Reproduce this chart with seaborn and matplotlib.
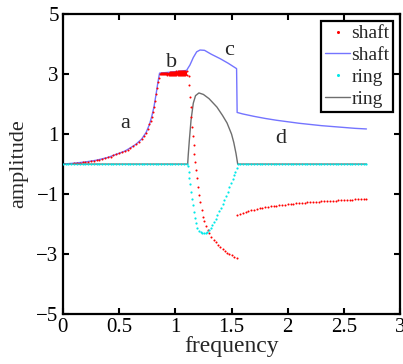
import matplotlib
matplotlib.use("Agg")
import matplotlib.pyplot as plt
import seaborn as sns
import pandas as pd
from matplotlib.lines import Line2D

# ---------------- data ----------------
# shaft, points (branch a)
shaft_a_x = [0.100, 0.125, 0.150, 0.175, 0.200, 0.225, 0.250, 0.275, 0.300, 0.325, 0.350, 0.375,
             0.400, 0.425, 0.450, 0.475, 0.500, 0.525, 0.550, 0.575, 0.600, 0.625, 0.650, 0.675,
             0.700, 0.720, 0.740, 0.755, 0.770, 0.780, 0.790, 0.800, 0.810, 0.820, 0.830, 0.838,
             0.845, 0.852, 0.860]
shaft_a_y = [0.03, 0.04, 0.05, 0.06, 0.07, 0.08, 0.10, 0.11, 0.13, 0.15, 0.17, 0.19,
             0.22, 0.25, 0.29, 0.32, 0.36, 0.39, 0.43, 0.48, 0.54, 0.60, 0.66, 0.74,
             0.83, 0.93, 1.05, 1.17, 1.32, 1.44, 1.58, 1.73, 1.90, 2.10, 2.35, 2.53,
             2.72, 2.86, 3.00]
# shaft, points (branch b: band)
shaft_b_x = [0.87, 0.88, 0.89, 0.90, 0.91, 0.92, 0.93, 0.94, 0.95, 0.96, 0.97, 0.98,
             0.99, 1.00, 1.01, 1.02, 1.03, 1.04, 1.05, 1.06, 1.07, 1.08, 1.09, 1.10]
shaft_b_upper = [3.02, 3.02, 3.03, 3.03, 3.04, 3.04, 3.05, 3.05, 3.06, 3.06, 3.07, 3.07,
                 3.08, 3.08, 3.09, 3.09, 3.09, 3.10, 3.10, 3.10, 3.11, 3.11, 3.11, 3.11]
shaft_b_lower = [3.00, 3.00, 2.99, 2.99, 2.99, 2.99, 2.98, 2.98, 2.98, 2.98, 2.98, 2.98,
                 2.97, 2.97, 2.97, 2.97, 2.97, 2.97, 2.96, 2.96, 2.96, 2.96, 2.96, 2.96]
# shaft, points (branch c: falling)
shaft_c_x = [1.118, 1.126, 1.132, 1.138, 1.144, 1.150, 1.156, 1.163, 1.170, 1.178, 1.186,
             1.194, 1.203, 1.212, 1.222, 1.233, 1.245, 1.258, 1.272, 1.287, 1.302, 1.32,
             1.34, 1.36, 1.38, 1.40, 1.42, 1.44, 1.46, 1.48, 1.50, 1.52, 1.545]
shaft_c_y = [2.94, 2.63, 2.25, 1.90, 1.57, 1.25, 0.95, 0.65, 0.35, 0.08, -0.20,
             -0.48, -0.76, -1.02, -1.28, -1.53, -1.77, -1.90, -2.06, -2.20, -2.30, -2.42,
             -2.52, -2.61, -2.70, -2.77, -2.84, -2.90, -2.95, -3.00, -3.04, -3.08, -3.12]
# shaft, points (branch d)
shaft_d_x = [1.550, 1.575, 1.600, 1.625, 1.650, 1.675, 1.700, 1.725, 1.750, 1.775, 1.800,
             1.825, 1.850, 1.875, 1.900, 1.925, 1.950, 1.975, 2.000, 2.025, 2.050, 2.075,
             2.100, 2.125, 2.150, 2.175, 2.200, 2.225, 2.250, 2.275, 2.300, 2.325, 2.350,
             2.375, 2.400, 2.425, 2.450, 2.475, 2.500, 2.525, 2.550, 2.575, 2.600, 2.625,
             2.650, 2.675, 2.700]
shaft_d_y = [-1.70, -1.655, -1.62, -1.59, -1.565, -1.54, -1.515, -1.495, -1.475, -1.455, -1.44,
             -1.425, -1.41, -1.395, -1.385, -1.372, -1.36, -1.35, -1.34, -1.33, -1.32, -1.31,
             -1.30, -1.29, -1.283, -1.276, -1.269, -1.262, -1.255, -1.249, -1.243, -1.237, -1.231,
             -1.225, -1.22, -1.215, -1.21, -1.205, -1.20, -1.195, -1.19, -1.185, -1.18, -1.175,
             -1.17, -1.165, -1.16]

# shaft, line
shaft_line_x = [0.00, 0.10, 0.20, 0.30, 0.40, 0.50, 0.55, 0.60, 0.65, 0.70, 0.74, 0.77, 0.79,
                0.81, 0.83, 0.845, 0.86, 0.95, 1.03, 1.10, 1.13, 1.16, 1.19, 1.22, 1.26,
                1.32, 1.40, 1.47, 1.545, 1.55, 1.60, 1.70, 1.80, 1.90, 2.00, 2.10, 2.20,
                2.30, 2.40, 2.50, 2.60, 2.70]
shaft_line_y = [0.00, 0.03, 0.07, 0.13, 0.22, 0.36, 0.43, 0.54, 0.66, 0.83, 1.05, 1.32, 1.58,
                1.90, 2.35, 2.72, 3.03, 3.06, 3.09, 3.12, 3.30, 3.55, 3.74, 3.80, 3.79,
                3.66, 3.51, 3.36, 3.18, 1.72, 1.67, 1.59, 1.52, 1.46, 1.41, 1.36, 1.32,
                1.28, 1.25, 1.22, 1.19, 1.17]

# ring, points
ring_zero_left_x = [0.000, 0.025, 0.050, 0.075, 0.100, 0.125, 0.150, 0.175, 0.200, 0.225,
                    0.250, 0.275, 0.300, 0.325, 0.350, 0.375, 0.400, 0.425, 0.450, 0.475,
                    0.500, 0.525, 0.550, 0.575, 0.600, 0.625, 0.650, 0.675, 0.700, 0.725,
                    0.750, 0.775, 0.800, 0.825, 0.850, 0.875, 0.900, 0.925, 0.950, 0.975,
                    1.000, 1.025, 1.050, 1.075, 1.100]
ring_dip_x = [1.115, 1.12, 1.125, 1.13, 1.137, 1.145, 1.153, 1.162, 1.172, 1.183, 1.195,
              1.21, 1.225, 1.24, 1.255, 1.27, 1.285, 1.30, 1.315, 1.33, 1.345, 1.36,
              1.375, 1.39, 1.405, 1.42, 1.435, 1.45, 1.465, 1.48, 1.495, 1.51, 1.525,
              1.535, 1.545, 1.555]
ring_dip_y = [-0.05, -0.25, -0.45, -0.68, -0.92, -1.15, -1.38, -1.60, -1.80, -1.98, -2.12,
              -2.22, -2.28, -2.31, -2.31, -2.29, -2.25, -2.20, -2.12, -2.03, -1.93, -1.82,
              -1.70, -1.57, -1.45, -1.33, -1.20, -1.07, -0.92, -0.78, -0.63, -0.50, -0.37,
              -0.25, -0.12, 0.00]
ring_zero_right_x = [1.575, 1.600, 1.625, 1.650, 1.675, 1.700, 1.725, 1.750, 1.775, 1.800,
                     1.825, 1.850, 1.875, 1.900, 1.925, 1.950, 1.975, 2.000, 2.025, 2.050,
                     2.075, 2.100, 2.125, 2.150, 2.175, 2.200, 2.225, 2.250, 2.275, 2.300,
                     2.325, 2.350, 2.375, 2.400, 2.425, 2.450, 2.475, 2.500, 2.525, 2.550,
                     2.575, 2.600, 2.625, 2.650, 2.675, 2.700]

# ring, line
ring_line_x = [0.00, 1.11, 1.115, 1.125, 1.14, 1.16, 1.18, 1.21, 1.25, 1.30, 1.37, 1.42,
               1.46, 1.50, 1.52, 1.54, 1.555, 2.70]
ring_line_y = [0.00, 0.00, 0.30, 0.80, 1.47, 2.03, 2.28, 2.37, 2.32, 2.18, 1.90, 1.62,
               1.37, 1.00, 0.72, 0.35, 0.00, 0.00]

x_ticks = [0, 0.5, 1, 1.5, 2, 2.5, 3]
x_tick_labels = ["0", "0.5", "1", "1.5", "2", "2.5", "3"]
y_ticks = [-5, -3, -1, 1, 3, 5]
y_tick_labels = ["\u22125", "\u22123", "\u22121", "1", "3", "5"]
region_labels = ["a", "b", "c", "d"]
region_x = [0.554, 0.964, 1.476, 1.94]
region_y = [1.36, 3.38, 3.80, 0.86]

# ---------------- style ----------------
sns.set_style("ticks")
plt.rcParams["font.family"] = ["Liberation Serif", "DejaVu Serif"]

RED = "#ff0000"
BLUE = "#7474ff"
CYAN = "#00e8e8"
GRAY = "#6e6e6e"

fig = plt.figure(figsize=(4.03, 3.64), dpi=100)
ax = fig.add_axes([0.156, 0.137, 0.837, 0.8245])

shaft_pts = pd.DataFrame({
    "x": shaft_a_x + shaft_b_x + shaft_b_x + shaft_c_x + shaft_d_x,
    "y": shaft_a_y + shaft_b_upper + shaft_b_lower + shaft_c_y + shaft_d_y,
})
shaft_line = pd.DataFrame({"x": shaft_line_x, "y": shaft_line_y})
ring_pts = pd.DataFrame({
    "x": ring_zero_left_x + ring_dip_x + ring_zero_right_x,
    "y": [0.0] * len(ring_zero_left_x) + ring_dip_y + [0.0] * len(ring_zero_right_x),
})
ring_line = pd.DataFrame({"x": ring_line_x, "y": ring_line_y})

sns.lineplot(data=shaft_line, x="x", y="y", sort=False, estimator=None, color=BLUE,
             linewidth=1.0, ax=ax, zorder=2)
sns.lineplot(data=ring_line, x="x", y="y", sort=False, estimator=None, color=GRAY,
             linewidth=1.0, ax=ax, zorder=2)
ax.fill_between(shaft_b_x, shaft_b_lower, shaft_b_upper, color=RED, linewidth=0, zorder=3)
sns.scatterplot(data=shaft_pts, x="x", y="y", color=RED, s=2.2, linewidth=0, ax=ax, zorder=3)
sns.scatterplot(data=ring_pts, x="x", y="y", color=CYAN, s=2.5, linewidth=0, ax=ax, zorder=4)

for lab, lx, ly in zip(region_labels, region_x, region_y):
    ax.text(lx, ly, lab, fontsize=16, ha="center", va="center", zorder=5)

ax.set_xlim(0, 3)
ax.set_ylim(-5, 5)
ax.set_xticks(x_ticks)
ax.set_xticklabels(x_tick_labels)
ax.set_yticks(y_ticks)
ax.set_yticklabels(y_tick_labels)
ax.tick_params(direction="in", length=4, width=1.5, labelsize=15, top=True, right=True,
               pad=3, colors="black")
for sp in ax.spines.values():
    sp.set_visible(True)
    sp.set_linewidth(1.6)
    sp.set_color("black")

ax.set_xlabel("frequency", fontsize=17, labelpad=-1)
ax.set_ylabel("amplitude", fontsize=16, labelpad=6)

handles = [
    Line2D([], [], linestyle="none", marker="o", markersize=2.2, color=RED, markeredgewidth=0),
    Line2D([], [], color=BLUE, linewidth=1.0),
    Line2D([], [], linestyle="none", marker="o", markersize=2.2, color=CYAN, markeredgewidth=0),
    Line2D([], [], color=GRAY, linewidth=1.0),
]
leg = ax.legend(handles, ["shaft", "shaft", "ring", "ring"], loc="upper right",
                fontsize=14, frameon=True, fancybox=False, handlelength=1.3,
                handletextpad=0.05, labelspacing=0.22, borderpad=0.2, borderaxespad=0.35)
leg.get_frame().set_edgecolor("black")
leg.get_frame().set_linewidth(1.6)
leg.get_frame().set_alpha(1)

fig.savefig("out.png", dpi=100)
